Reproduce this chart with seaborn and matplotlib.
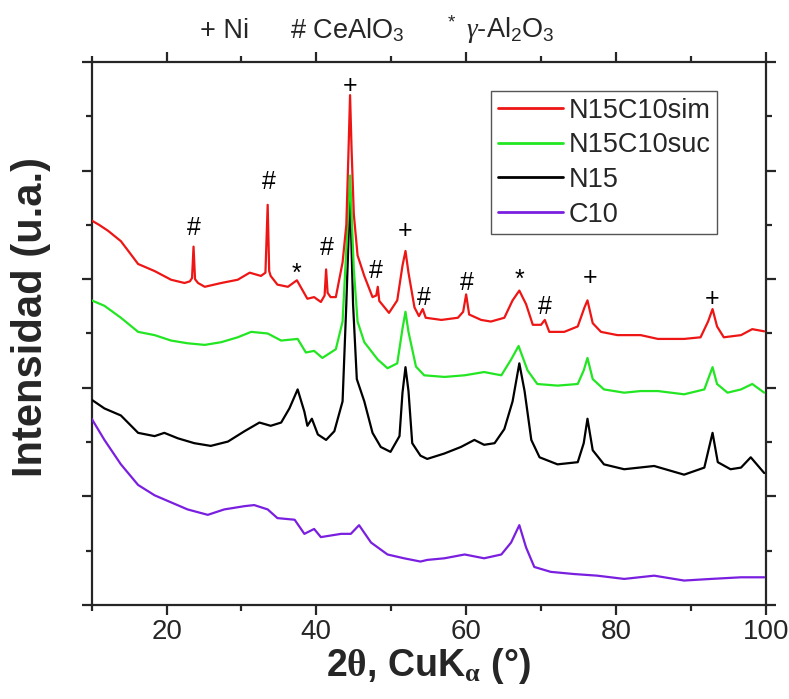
import numpy as np
import pandas as pd
import matplotlib
matplotlib.use("Agg")
import matplotlib.pyplot as plt
import seaborn as sns
from matplotlib.ticker import MultipleLocator, NullFormatter

# difractogramas (2theta, intensidad desplazada)
sim_x = [10.0, 11.0, 12.2, 13.9, 15.0, 16.2, 18.4, 20.6, 22.4, 23.1, 23.4, 23.6, 23.8, 24.2, 25.1,
         27.3, 29.5, 31.1, 32.6, 33.2, 33.5, 33.7, 33.9, 34.8, 36.2, 37.4, 38.8, 39.7, 40.6, 41.1,
         41.3, 41.5, 41.9, 42.6, 43.5, 44.0, 44.3, 44.5, 44.7, 45.0, 45.5, 46.4, 47.5, 48.0, 48.2,
         48.4, 49.7, 50.8, 51.5, 51.9, 52.3, 53.1, 53.7, 54.2, 54.6, 56.7, 58.9, 59.6, 60.0, 60.4,
         62.0, 63.3, 65.1, 66.2, 67.1, 68.0, 68.9, 70.0, 70.5, 71.1, 73.1, 74.9, 75.8, 76.2, 76.9,
         78.0, 80.2, 83.3, 85.6, 89.1, 91.3, 92.3, 92.9, 93.5, 94.4, 96.7, 98.2, 99.8]
sim_y = [7.08, 7.00, 6.89, 6.70, 6.50, 6.28, 6.15, 5.99, 5.93, 5.96, 6.02, 6.60, 6.00, 5.93, 5.86,
         5.93, 5.99, 6.12, 6.06, 6.12, 7.37, 6.15, 6.06, 5.90, 5.86, 5.98, 5.64, 5.67, 5.58, 5.70,
         6.18, 5.75, 5.67, 5.67, 6.31, 7.00, 8.40, 9.39, 8.40, 7.20, 6.44, 6.06, 5.67, 5.70, 5.86,
         5.60, 5.38, 5.61, 6.25, 6.52, 6.12, 5.48, 5.32, 5.45, 5.29, 5.25, 5.29, 5.40, 5.72, 5.35,
         5.25, 5.22, 5.29, 5.61, 5.79, 5.54, 5.16, 5.16, 5.25, 5.03, 5.03, 5.13, 5.48, 5.61, 5.19,
         5.03, 4.97, 4.97, 4.90, 4.90, 4.93, 5.22, 5.45, 5.13, 4.93, 4.97, 5.08, 5.04]

suc_x = [10.0, 11.7, 13.9, 16.2, 18.4, 20.6, 22.8, 25.1, 27.3, 29.5, 31.3, 33.5, 35.3, 37.5, 38.6,
         39.7, 40.8, 42.6, 43.5, 44.1, 44.5, 45.0, 45.5, 46.4, 48.2, 49.5, 50.8, 51.5, 51.9, 52.3,
         53.3, 54.4, 57.1, 59.8, 62.4, 64.7, 66.0, 67.0, 68.2, 69.5, 72.2, 74.9, 75.7, 76.2, 76.9,
         78.4, 81.1, 83.3, 85.6, 89.1, 91.8, 92.9, 93.5, 94.9, 96.7, 98.2, 99.8]
suc_y = [5.61, 5.51, 5.29, 5.03, 4.97, 4.87, 4.82, 4.79, 4.84, 4.93, 5.03, 5.00, 4.87, 4.90, 4.65,
         4.68, 4.55, 4.71, 5.22, 6.82, 7.91, 6.18, 5.22, 4.84, 4.52, 4.36, 4.45, 5.09, 5.40, 5.03,
         4.39, 4.23, 4.20, 4.23, 4.29, 4.23, 4.52, 4.77, 4.32, 4.07, 4.04, 4.07, 4.32, 4.55, 4.16,
         3.97, 3.91, 3.94, 3.94, 3.88, 3.97, 4.38, 4.07, 3.91, 3.97, 4.07, 3.91]

n15_x = [10.0, 11.7, 13.9, 16.2, 18.4, 19.7, 21.5, 23.7, 25.9, 28.2, 30.4, 32.4, 33.9, 35.3, 36.4,
         37.5, 38.4, 38.8, 39.4, 40.2, 41.3, 42.4, 43.5, 44.0, 44.5, 44.9, 45.4, 46.4, 47.5, 48.6,
         49.9, 51.1, 51.5, 51.9, 52.3, 52.8, 53.9, 54.8, 57.1, 59.3, 61.1, 62.4, 63.8, 65.1, 66.2,
         67.1, 67.8, 68.7, 69.8, 72.2, 74.9, 75.7, 76.2, 76.9, 78.4, 81.1, 85.1, 89.1, 91.8, 92.9,
         93.6, 95.3, 96.7, 98.0, 99.8]
n15_y = [3.78, 3.62, 3.49, 3.17, 3.11, 3.17, 3.07, 2.98, 2.93, 3.01, 3.20, 3.36, 3.30, 3.36, 3.62,
         3.97, 3.56, 3.30, 3.43, 3.14, 3.04, 3.20, 3.75, 5.54, 7.60, 5.54, 4.16, 3.75, 3.17, 2.91,
         2.82, 3.11, 3.91, 4.38, 3.94, 2.98, 2.75, 2.69, 2.79, 2.91, 3.04, 2.95, 2.98, 3.24, 3.75,
         4.45, 3.94, 3.04, 2.72, 2.59, 2.63, 2.98, 3.43, 2.85, 2.59, 2.50, 2.56, 2.40, 2.53, 3.17,
         2.63, 2.50, 2.53, 2.72, 2.43]

c10_x = [10.0, 11.7, 13.9, 16.2, 18.4, 20.6, 22.8, 25.5, 27.7, 30.4, 31.7, 33.5, 34.8, 37.1, 38.4,
         39.7, 40.6, 43.3, 44.6, 45.7, 47.3, 49.5, 51.7, 53.9, 54.8, 57.1, 59.8, 62.4, 64.7, 66.0,
         67.1, 68.0, 69.1, 71.3, 74.4, 77.5, 81.1, 85.1, 89.1, 92.7, 96.7, 99.8]
c10_y = [3.43, 3.04, 2.59, 2.21, 2.02, 1.89, 1.76, 1.66, 1.76, 1.82, 1.84, 1.76, 1.60, 1.57, 1.31,
         1.40, 1.25, 1.31, 1.31, 1.47, 1.15, 0.93, 0.86, 0.80, 0.83, 0.86, 0.93, 0.86, 0.93, 1.15,
         1.47, 1.06, 0.70, 0.61, 0.57, 0.54, 0.48, 0.54, 0.45, 0.48, 0.51, 0.51]

muestras = ["N15C10sim", "N15C10suc", "N15", "C10"]
colores = ["#ee1515", "#22e622", "#000000", "#7a1fe0"]

# simbolos de fases sobre los picos (simbolo, 2theta, linea base del texto)
picos_sym = ["#", "#", "*", "#", "+", "#", "+", "#", "#", "*", "#", "+", "+"]
picos_x = [23.7, 33.6, 37.4, 41.4, 44.5, 47.9, 51.9, 54.3, 60.1, 67.1, 70.5, 76.6, 92.9]
picos_y = [6.82, 7.67, 5.97, 6.45, 9.43, 6.03, 6.76, 5.52, 5.80, 5.86, 5.35, 5.89, 5.51]

frames = []
for name, xs, ys in zip(muestras, [sim_x, suc_x, n15_x, c10_x], [sim_y, suc_y, n15_y, c10_y]):
    frames.append(pd.DataFrame({"2theta": xs, "I": ys, "muestra": name}))
df = pd.concat(frames, ignore_index=True)

sns.set_style("ticks")
plt.rcParams["font.family"] = ["Liberation Sans", "DejaVu Sans"]
plt.rcParams["mathtext.fontset"] = "custom"
plt.rcParams["mathtext.rm"] = "Liberation Sans"
plt.rcParams["mathtext.it"] = "Liberation Serif:italic"
plt.rcParams["mathtext.bf"] = "Liberation Serif:bold"
plt.rcParams["axes.linewidth"] = 1.6

fig = plt.figure(figsize=(7.89, 6.99), dpi=100)
ax = fig.add_axes([0.1162, 0.1345, 0.8543, 0.7768])

sns.lineplot(data=df, x="2theta", y="I", hue="muestra", hue_order=muestras,
             palette=dict(zip(muestras, colores)), sort=False, estimator=None,
             linewidth=1.6, ax=ax)
for i, ln in enumerate(ax.lines):
    ln.set_zorder(10 - i)

for s, x, y in zip(picos_sym, picos_x, picos_y):
    ax.text(x, y, s, ha="center", va="baseline", fontsize=18, color="black")

ax.set_xlim(10, 100)
ax.set_ylim(0, 10)
ax.xaxis.set_major_locator(MultipleLocator(20))
ax.xaxis.set_minor_locator(MultipleLocator(10))
ax.yaxis.set_major_locator(MultipleLocator(2))
ax.yaxis.set_minor_locator(MultipleLocator(1))
ax.yaxis.set_major_formatter(NullFormatter())
ax.tick_params(which="both", direction="out", top=True, right=True, width=1.6)
ax.tick_params(which="major", length=7, labelsize=20, pad=3)
ax.tick_params(which="minor", length=4)

ax.set_xlabel(r"2$\mathbf{\theta}$, CuK$_\mathbf{\alpha}$ (°)", fontsize=27, fontweight="bold", labelpad=1)
ax.set_ylabel("Intensidad (u.a.)", fontsize=30, fontweight="bold")
ax.yaxis.set_label_coords(-0.06, 0.53)

handles, labels = ax.get_legend_handles_labels()
leg = ax.legend(handles, labels, loc="upper right", bbox_to_anchor=(0.928, 0.947),
                fontsize=19.5, frameon=True, fancybox=False, edgecolor="#555555",
                handlelength=2.4, handletextpad=0.2, labelspacing=0.32,
                borderpad=0.25, borderaxespad=0, framealpha=1)
for h in leg.get_lines():
    h.set_linewidth(2)

fig.text(0.253, 0.945, "+ Ni", fontsize=19.5, va="baseline")
fig.text(0.368, 0.945, "# CeAlO$_3$", fontsize=19.5, va="baseline")
fig.text(0.564, 0.945, r"$^*$ $\mathit{\gamma}$-Al$_2$O$_3$", fontsize=19.5, va="baseline")

fig.savefig("out.png", dpi=100)
